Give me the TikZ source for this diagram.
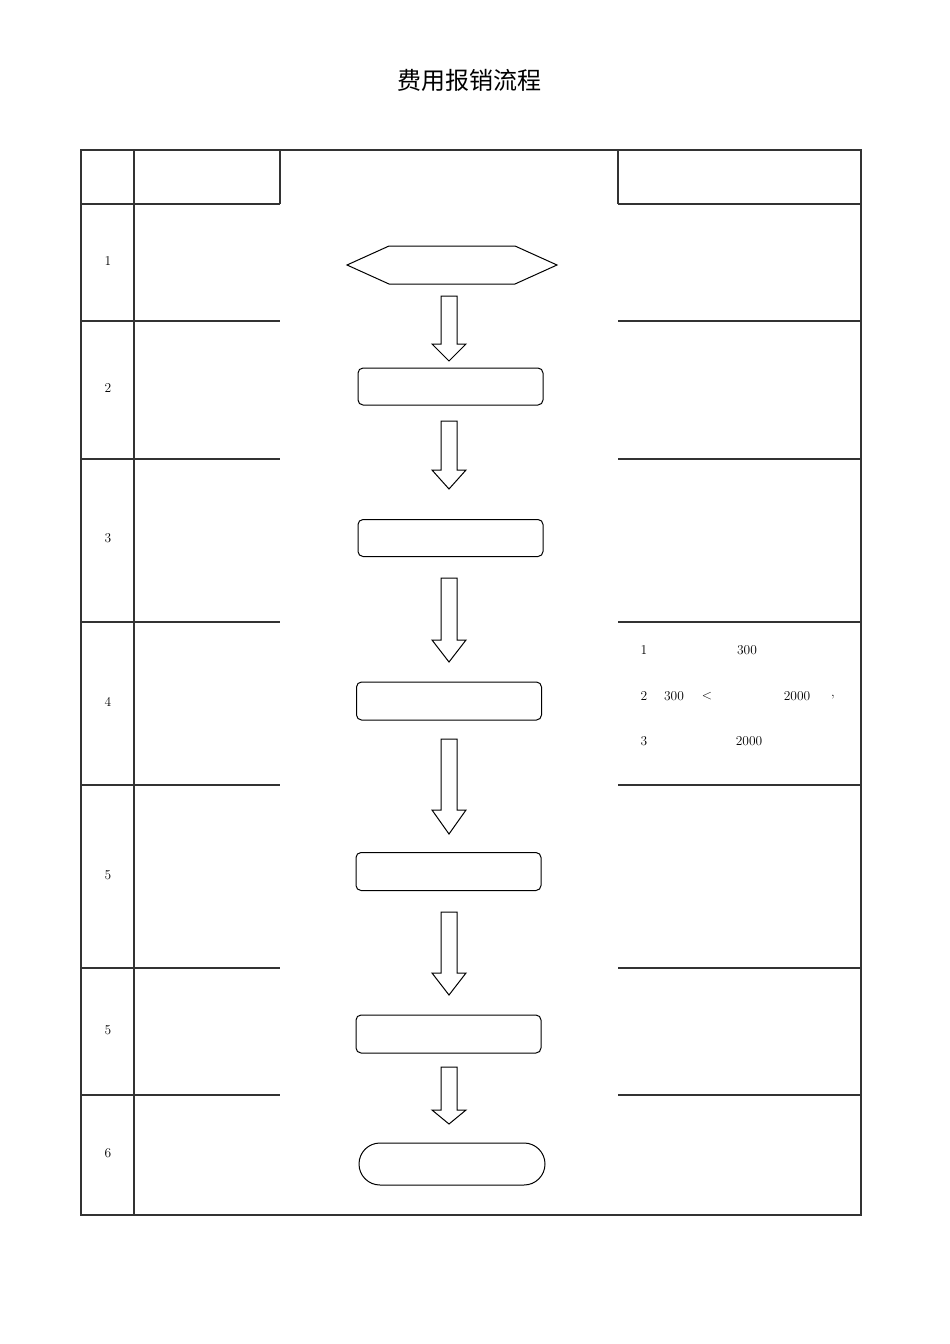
\documentclass[tikz,border=0pt]{standalone}
\usepackage{fontspec}
\newfontfamily\cjk{Noto Sans CJK SC}
\usepackage{tikz}
\usetikzlibrary{arrows}

% hollow block arrow: top of shaft, start of head, tip
\newcommand{\flowarrow}[3]{%
\draw[bigarrow] (441,#1) -- (457,#1) -- (457,#2) -- (466,#2) -- (449,#3) -- (432,#2) -- (441,#2) -- cycle;}

\begin{document}
\begin{tikzpicture}[x=1pt,y=-1pt]
\tikzset{frame/.style = {line width=1.2pt, draw=black!80}}
\tikzset{stepbox/.style = {draw, line width=1pt, rounded corners=5pt, minimum width=185pt, minimum height=37pt, inner sep=0pt}}
\tikzset{endbox/.style = {draw, line width=1pt, rounded corners=21pt, minimum width=186pt, minimum height=42pt, inner sep=0pt}}
\tikzset{num/.style = {font=\fontsize{13.5}{15}\selectfont}}
\tikzset{bigarrow/.style = {draw, line width=1pt, fill=white}}
\useasboundingbox (0,0) rectangle (950,1344);

% title
\node[font=\cjk\fontsize{24}{28}\selectfont] (title) at (469,80) {费用报销流程};

% table
\draw[frame] (81,150) rectangle (861,1215);
\draw[frame] (134,150) -- (134,1215);
\draw[frame] (280,150) -- (280,204);
\draw[frame] (618,150) -- (618,204);
\foreach \y in {204,321,459,622,785,968,1095} {
  \draw[frame] (81,\y) -- (280,\y);
  \draw[frame] (618,\y) -- (861,\y);
}

% row numbers
\node[num] (r1) at (108,261)  {1};
\node[num] (r2) at (108,388)  {2};
\node[num] (r3) at (108,538)  {3};
\node[num] (r4) at (108,702)  {4};
\node[num] (r5) at (108,875)  {5};
\node[num] (r6) at (108,1030) {5};
\node[num] (r7) at (108,1153) {6};

% steps
\draw[line width=1pt] (347,265) -- (389,246) -- (515,246) -- (557,265) -- (515,284) -- (389,284) -- cycle;
\node (start) at (452,265) {};
\node[stepbox] (s2) at (450.5,386.5) {};
\node[stepbox] (s3) at (450.5,538)   {};
\node[stepbox, minimum height=38pt] (s4) at (449,701)    {};
\node[stepbox, minimum height=38pt] (s5) at (448.5,871.5) {};
\node[stepbox, minimum height=38pt] (s6) at (448.5,1034)  {};
\node[endbox] (stop) at (452,1164) {};

% arrows
\flowarrow{296}{344}{361}
\flowarrow{421}{470}{489}
\flowarrow{578}{640}{662}
\flowarrow{739}{810}{834}
\flowarrow{912}{973}{995}
\flowarrow{1067}{1110}{1124}

% notes of row 4
\node[num] (n1)  at (644,650) {1};
\node[num] (n1b) at (747,650) {300};
\node[num] (n2)  at (644,696) {2};
\node[num] (n2b) at (674,696) {300};
\node[num] (n2c) at (707,696) {<};
\node[num] (n2d) at (797,696) {2000};
\node[num] (n2e) at (833,697) {,};
\node[num] (n3)  at (644,741) {3};
\node[num] (n3b) at (749,741) {2000};

\end{tikzpicture}
\end{document}
